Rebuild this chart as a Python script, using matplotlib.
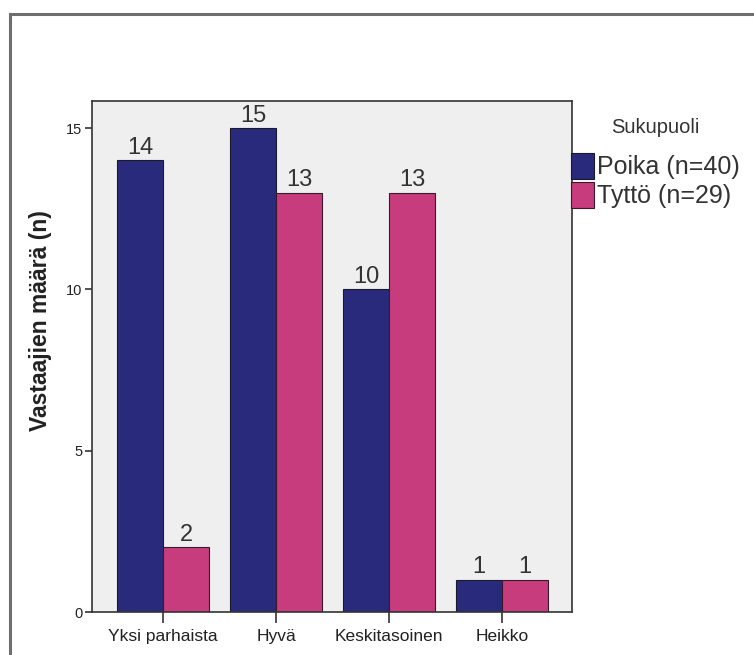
import numpy as np
import matplotlib.pyplot as plt
from matplotlib.patches import Rectangle

plt.rcParams['font.family'] = ['Liberation Sans', 'DejaVu Sans']

# Arvosanaluokat ja vastaajamäärät sukupuolittain
categories = ["Yksi parhaista", "Hyvä", "Keskitasoinen", "Heikko"]
poika = [14, 15, 10, 1]
tytto = [2, 13, 13, 1]
series_names = ["Poika (n=40)", "Tyttö (n=29)"]
y_ticks = [0, 5, 10, 15]

col_poika = "#2a2a7c"
col_tytto = "#c63c7c"


def main():
    fig = plt.figure(figsize=(7.54, 6.55), dpi=100)
    fig.patch.set_facecolor("white")

    # harmaa kehys koko kuvion ympärillä
    frame = Rectangle((10 / 754, -0.1), 1.2, (655 - 14) / 655 + 0.1,
                      transform=fig.transFigure, fill=False,
                      edgecolor="#6e6e6e", linewidth=2.2, clip_on=False)
    fig.patches.append(frame)

    ax = fig.add_axes([92 / 754, 43 / 655, 480 / 754, 511 / 655])
    ax.set_facecolor("#efefef")

    x = np.arange(len(categories))
    w = 0.41
    b1 = ax.bar(x - w / 2, poika, w, color=col_poika, edgecolor="#1a1a2a",
                linewidth=0.8, label=series_names[0])
    b2 = ax.bar(x + w / 2, tytto, w, color=col_tytto, edgecolor="#3a1a2a",
                linewidth=0.8, label=series_names[1])

    # arvot pylväiden yläpuolelle
    for bars, vals in ((b1, poika), (b2, tytto)):
        for rect, v in zip(bars, vals):
            ax.annotate(str(v), (rect.get_x() + rect.get_width() / 2, v),
                        xytext=(0, 1), textcoords="offset points",
                        ha="center", va="bottom", fontsize=17,
                        color="#333333")

    ax.set_xlim(-0.63, 3.62)
    ax.set_ylim(0, 15.84)
    ax.set_xticks(x)
    ax.set_xticklabels(categories, fontsize=12.5, color="#222222")
    ax.set_yticks(y_ticks)
    ax.set_yticklabels([str(t) for t in y_ticks], fontsize=10.5,
                       color="#222222")
    ax.tick_params(axis="x", length=8, width=1.2, color="#333333", pad=4)
    ax.tick_params(axis="y", length=5, width=1.2, color="#333333", pad=2)
    for sp in ax.spines.values():
        sp.set_color("#333333")
        sp.set_linewidth(1.2)

    ax.set_ylabel("Vastaajien määrä (n)", fontsize=16.5, fontweight="bold",
                  color="#222222", va="center")
    ax.yaxis.set_label_coords(-0.108, 0.57)

    leg = ax.legend(loc="upper left", bbox_to_anchor=(0.997, 0.966),
                    frameon=False, fontsize=18, title="Sukupuoli",
                    title_fontsize=14.5, handlelength=0.95, handleheight=1.25,
                    handletextpad=0.1, labelspacing=0.1, borderpad=0.0,
                    borderaxespad=0.0)
    leg.get_title().set_color("#333333")
    leg._legend_box.sep = 11
    for t in leg.get_texts():
        t.set_color("#333333")

    fig.savefig("out.png", dpi=100)


if __name__ == "__main__":
    main()
